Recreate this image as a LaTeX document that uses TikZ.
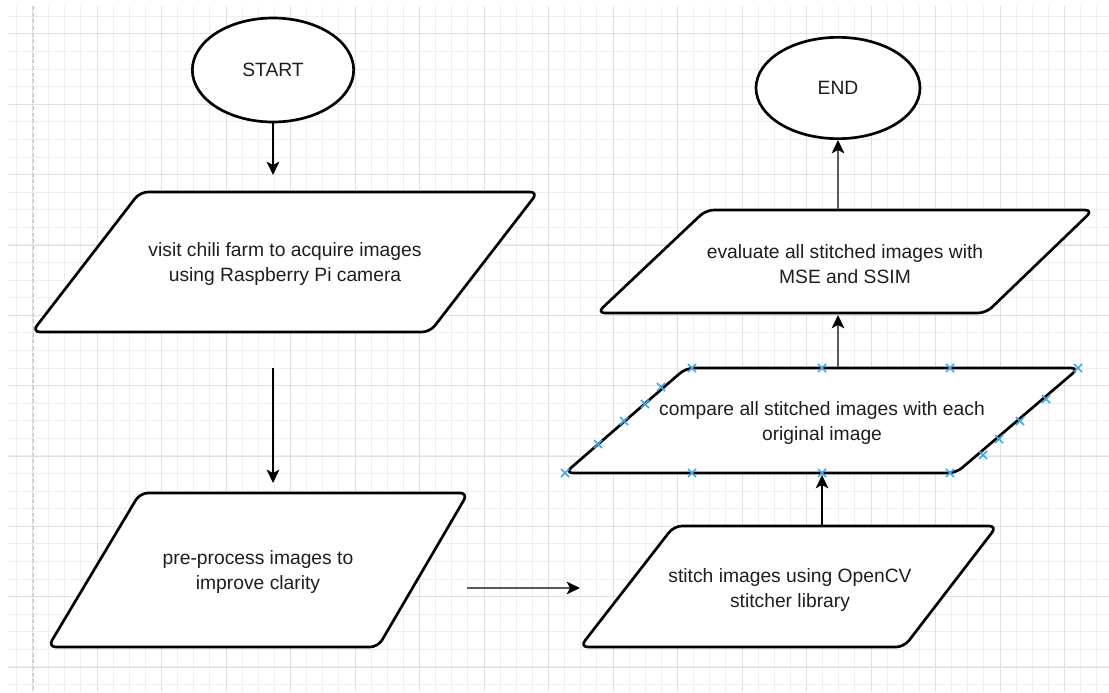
\documentclass[tikz,border=0pt]{standalone}
\usepackage{fontspec}
\setmainfont{Liberation Sans}
\usetikzlibrary{arrows.meta,shapes.geometric}
\definecolor{gridmajor}{HTML}{E0E0E0}
\definecolor{gridminor}{HTML}{EFEFEF}
\definecolor{pagedash}{HTML}{C4C4C4}
\definecolor{markblue}{HTML}{3FA9E8}
\definecolor{txt}{HTML}{1E1E1E}
\newcommand\dfont{\fontsize{14.45pt}{18.75pt}\selectfont}
\begin{document}
\begin{tikzpicture}[x=0.75pt,y=-0.75pt,
  shapebox/.style={draw=black, fill=white, line width=2pt, rounded corners=6pt, line join=round},
  term/.style={ellipse, draw=black, fill=white, line width=2pt, minimum width=121pt, minimum height=78pt, inner sep=0pt, text=txt, font=\dfont},
  boxtext/.style={align=center, text=txt, font=\dfont, inner sep=0pt},
  arr/.style={-{Stealth[length=10pt,width=9.5pt,inset=2.5pt,color=black]}, line width=1.15pt, draw=black},
  arrg/.style={arr, draw=black!65},
  mk/.style={draw=markblue, line width=1.1pt}
]
\useasboundingbox (0,0) rectangle (1109,692);
\fill[white] (0,0) rectangle (1109,692);
% grid
\foreach \k in {-1,...,66}
  \draw[gridminor, line width=0.75pt] ({32.5+16.125*\k},6) -- ({32.5+16.125*\k},692);
\foreach \k in {-1,...,37}
  \draw[gridminor, line width=0.75pt] (8,{34+17.583*\k}) -- (1109,{34+17.583*\k});
\foreach \k in {0,...,16}
  \draw[gridmajor, line width=0.75pt] ({32.5+64.5*\k},6) -- ({32.5+64.5*\k},692);
\foreach \k in {0,...,9}
  \draw[gridmajor, line width=0.75pt] (8,{34+70.333*\k}) -- (1109,{34+70.333*\k});
\draw[pagedash, line width=0.75pt, dash pattern=on 3pt off 2pt] (33,6) -- (33,692);

% terminals
\node[term] (start) at (273,70) {START};
\node[term, minimum width=123pt, minimum height=76pt] (end) at (838,88) {END};

% process boxes
\draw[shapebox] (32,332) -- (140,192) -- (538,192) -- (430,332) -- cycle;
\node[boxtext] (t1) at (285,264) {visit chili farm to acquire images\\using Raspberry Pi camera};

\draw[shapebox] (48,647) -- (140,493) -- (468,493) -- (378,647) -- cycle;
\node[boxtext] (t2) at (258,572) {pre-process images to\\improve clarity};

\draw[shapebox] (580,647) -- (674,526) -- (997,526) -- (904,647) -- cycle;
\node[boxtext] (t3) at (790,590) {stitch images using OpenCV\\stitcher library};

\draw[shapebox] (565,473) -- (686,368) -- (1079,368) -- (956,473) -- cycle;
\node[boxtext] (t4) at (822,423) {compare all stitched images with each\\original image};

\draw[shapebox] (597,313) -- (706,210) -- (1093,210) -- (986,313) -- cycle;
\node[boxtext] (t5) at (845,264) {evaluate all stitched images with\\MSE and SSIM};

% connector ends
\coordinate (s1) at (273,175);
\coordinate (b1out) at (273,368);
\coordinate (b2in) at (273,483);
\coordinate (b2out) at (467,588);
\coordinate (b3in) at (580,588);
\coordinate (b3top) at (822,525);
\coordinate (b4bot) at (822,475);
\coordinate (b4top) at (838,367);
\coordinate (b5bot) at (838,315);
\coordinate (b5top) at (838,209);

\draw[arr] (start.south) -- (s1);
\draw[arr] (b1out) -- (b2in);
\draw[arrg] (b2out) -- (b3in);
\draw[arr] (b3top) -- (b4bot);
\draw[arrg] (b4top) -- (b5bot);
\draw[arrg] (b5top) -- (end.south);

% connection point markers
\foreach \a/\b in {692/368, 822/368, 950/368, 1078/368,
                   565/473, 692/473, 822/473, 950/473,
                   598/444, 624/421, 645/404, 661/387,
                   983/455, 999/439, 1020/421, 1046/399}
  \draw[mk] (\a-4,\b-4) -- (\a+4,\b+4) (\a-4,\b+4) -- (\a+4,\b-4);
\end{tikzpicture}
\end{document}
